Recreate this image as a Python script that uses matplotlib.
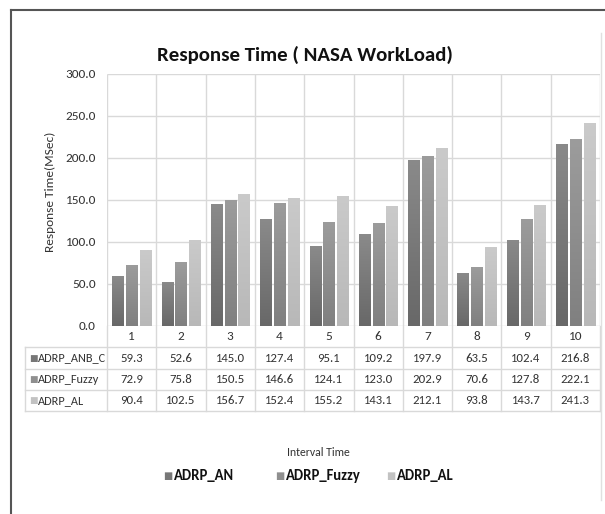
import matplotlib.pyplot as plt
from matplotlib.lines import Line2D
from matplotlib.colors import LinearSegmentedColormap
import matplotlib.transforms as mtrans
import numpy as np

plt.rcParams['font.family'] = ['Carlito', 'DejaVu Sans']

# 데이터
categories = ['1', '2', '3', '4', '5', '6', '7', '8', '9', '10']
row_names = ['ADRP_ANB_C', 'ADRP_Fuzzy', 'ADRP_AL']
legend_names = ['ADRP_AN', 'ADRP_Fuzzy', 'ADRP_AL']
anb_c = [59.3, 52.6, 145.0, 127.4, 95.1, 109.2, 197.9, 63.5, 102.4, 216.8]
fuzzy = [72.9, 75.8, 150.5, 146.6, 124.1, 123.0, 202.9, 70.6, 127.8, 222.1]
al = [90.4, 102.5, 156.7, 152.4, 155.2, 143.1, 212.1, 93.8, 143.7, 241.3]
yticks = [0, 50, 100, 150, 200, 250, 300]

# (아래색, 위색) 그라데이션
colors = ['#777777', '#8f8f8f', '#c2c2c2']
grads = [('#686868', '#8a8a8a'), ('#808080', '#9c9c9c'), ('#b8b8b8', '#cacaca')]
grid_c = '#d9d9d9'
text_c = '#333333'

W, H = 605, 514
fig = plt.figure(figsize=(W / 100, H / 100), dpi=100)


def fx(p):
    return p / W


def fy(p):
    return 1 - p / H


# 차트 영역
ax = fig.add_axes([fx(107), fy(326), fx(600) - fx(107), fy(74) - fy(326)])
x = np.arange(len(categories))
bw = 0.225
step = 0.278
grad_img = np.linspace(0, 1, 64).reshape(-1, 1)
for i, (vals, c, g) in enumerate(zip([anb_c, fuzzy, al], colors, grads)):
    bars = ax.bar(x + (i - 1) * step, vals, bw, color=c, zorder=3)
    cmap = LinearSegmentedColormap.from_list('g%d' % i, list(g))
    for b in bars:
        x0, w, h = b.get_x(), b.get_width(), b.get_height()
        im = ax.imshow(grad_img, cmap=cmap, origin='lower', aspect='auto',
                       extent=[x0, x0 + w, 0, h], zorder=4)
        im.set_clip_path(b)

ax.set_xlim(-0.5, len(categories) - 0.5)
ax.set_ylim(0, 300)
ax.set_aspect('auto')
ax.set_yticks(yticks)
ax.set_yticklabels([f'{v:.1f}' for v in yticks], fontsize=9.5, color=text_c)
ax.tick_params(axis='y', length=0, pad=8)
ax.set_xticks([])
ax.hlines(yticks, -0.5, len(categories) - 0.5, color=grid_c, lw=1, zorder=1)
ax.vlines(np.arange(-0.5, len(categories), 1), 0, 300, color=grid_c, lw=1, zorder=1)
for s in ax.spines.values():
    s.set_visible(False)

# 데이터 테이블
blend = mtrans.blended_transform_factory(ax.transData, fig.transFigure)
row_y = [326, 347, 369, 390, 411]
for b in np.arange(-0.5, len(categories), 1):
    fig.add_artist(Line2D([b, b], [fy(326), fy(411)], transform=blend, color=grid_c, lw=1))
for yy in row_y[1:]:
    fig.add_artist(Line2D([fx(25), fx(600)], [fy(yy), fy(yy)], color=grid_c, lw=1))
fig.add_artist(Line2D([fx(25), fx(25)], [fy(347), fy(411)], color=grid_c, lw=1))

for i, c in enumerate(categories):
    fig.text(i, fy(337), c, transform=blend, ha='center', va='center', fontsize=9.5, color=text_c)

for r, (name, vals, c) in enumerate(zip(row_names, [anb_c, fuzzy, al], colors)):
    yc = fy((row_y[r + 1] + row_y[r + 2]) / 2)
    fig.text(fx(29), yc, '\u25a0', ha='left', va='center', fontsize=6.5, color=c,
             family=['DejaVu Sans'])
    fig.text(fx(38), yc, name, ha='left', va='center', fontsize=8.8, color=text_c)
    for i, v in enumerate(vals):
        fig.text(i, yc, f'{v:.1f}', transform=blend, ha='center', va='center',
                 fontsize=9.2, color=text_c)

# 제목, 축 이름
fig.text(fx(305), fy(55), 'Response Time ( NASA WorkLoad)', ha='center', va='center',
         fontsize=15, fontweight='bold', color='#111111')
fig.text(fx(50), fy(192), 'Response Time(MSec)', rotation=90, ha='center', va='center',
         fontsize=9.6, color=text_c)
fig.text(fx(318), fy(453), 'Interval Time', ha='center', va='center', fontsize=8.5, color=text_c)

# 범례 (엑셀식 고정 위치)
leg_sq_x = [163, 275, 386]
for sx, name, c in zip(leg_sq_x, legend_names, colors):
    fig.text(fx(sx), fy(476), '\u25a0', ha='left', va='center', fontsize=7, color=c,
             family=['DejaVu Sans'])
    fig.text(fx(sx + 11), fy(476), name, ha='left', va='center', fontsize=10.5,
             fontweight='bold', color='#111111')

# 테두리
fig.add_artist(Line2D([fx(11), fx(11)], [fy(10), 0], color='#555555', lw=1.5))
fig.add_artist(Line2D([fx(11), 1], [fy(10), fy(10)], color='#555555', lw=1.5))
fig.add_artist(Line2D([fx(601), fx(601)], [fy(33), fy(500)], color='#e0e0e0', lw=1))

fig.savefig('out.png', dpi=100)
